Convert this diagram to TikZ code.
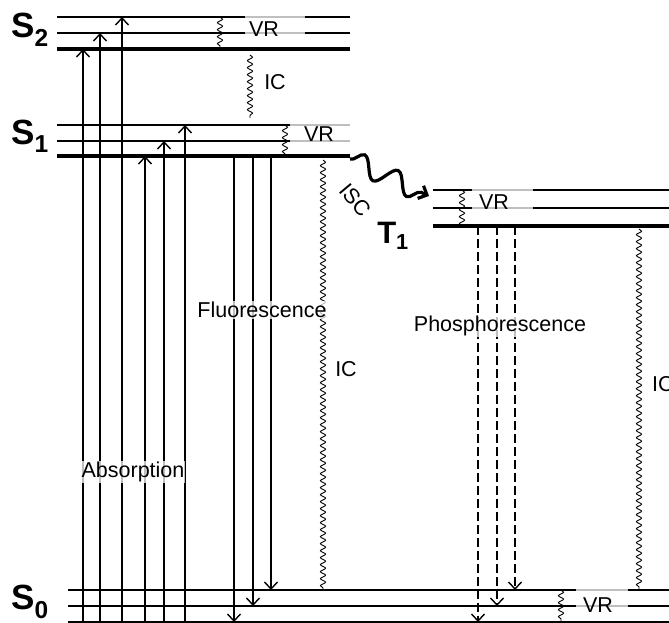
\documentclass[tikz,border=0pt]{standalone}
\usepackage{fontspec}
\setmainfont{Liberation Sans}
\usetikzlibrary{arrows.meta,decorations.pathmorphing}

\tikzset{
  level/.style={line width=1.8pt},
  ground/.style={line width=3.6pt},
  faded/.style={line width=1.9pt, black!25},
  radiative/.style={line width=1.4pt, -{Straight Barb[length=7pt,width=13pt]}},
  phos/.style={radiative, dash pattern=on 9pt off 4pt},
  wiggle/.style={line width=0.9pt, decorate, decoration={snake, amplitude=2.6pt, segment length=7pt}},
  isc/.style={line width=3.2pt, -{Straight Barb[length=7pt,width=14pt]}, decorate,
    decoration={snake, amplitude=10pt, segment length=37pt, post length=5pt}},
  lbl/.style={font=\fontsize{21.5}{21.5}\selectfont, inner sep=1pt},
  veil/.style={lbl, fill=white, fill opacity=0.75, text opacity=1},
  statelbl/.style={font=\fontsize{35}{35}\selectfont\bfseries, inner sep=0pt},
}

\begin{document}
\begin{tikzpicture}[x=1pt,y=-1pt]
  \useasboundingbox (0,0) rectangle (669,623);

  % Energy levels (left end of each line)
  \coordinate (s2a) at (57,17);
  \coordinate (s2b) at (57,33);
  \coordinate (s2c) at (57,49);
  \coordinate (s1a) at (57,125);
  \coordinate (s1b) at (57,141);
  \coordinate (s1c) at (57,156);
  \coordinate (t1a) at (433,190);
  \coordinate (t1b) at (433,208);
  \coordinate (t1c) at (433,226);
  \coordinate (s0a) at (68,590);
  \coordinate (s0b) at (68,606);
  \coordinate (s0c) at (68,622);

  % S2 and S1
  \foreach \lv in {s2a,s2b,s1a,s1b}
    \draw[level] (\lv) -- ++(293,0);
  \draw[ground] (s2c) -- ++(293,0);
  \draw[ground] (s1c) -- ++(293,0);
  \draw[faded] (245,17) -- (305,17);
  \draw[faded] (245,33) -- (305,33);
  \draw[faded] (290,125) -- (350,125);
  \draw[faded] (290,141) -- (350,141);

  % T1
  \draw[level] (t1a) -- (669,190);
  \draw[level] (t1b) -- (669,208);
  \draw[ground] (t1c) -- (669,226);
  \draw[faded] (472,190) -- (533,190);
  \draw[faded] (472,208) -- (533,208);

  % S0
  \foreach \lv in {s0a,s0b,s0c}
    \draw[level] (\lv) -- (669,0 |- \lv);
  \draw[faded] (576,590) -- (628,590);
  \draw[faded] (576,606) -- (628,606);

  % Absorption
  \foreach \x/\lv in {83/s2c,100/s2b,122/s2a,145/s1c,164/s1b,185/s1a}
    \draw[radiative] (\x,0 |- s0c) -- (\x,0 |- \lv);

  % Fluorescence
  \foreach \x/\lv in {234/s0c,253/s0b,271/s0a}
    \draw[radiative] (\x,0 |- s1c) -- (\x,0 |- \lv);

  % Phosphorescence
  \foreach \x/\lv in {478/s0c,497/s0b,515/s0a}
    \draw[phos] (\x,0 |- t1c) -- (\x,0 |- \lv);

  % Vibrational relaxation
  \draw[wiggle] (220,0 |- s2a) -- (220,0 |- s2c);
  \draw[wiggle] (285,0 |- s1a) -- (285,0 |- s1c);
  \draw[wiggle] (462,0 |- t1a) -- (462,0 |- t1c);
  \draw[wiggle] (561,0 |- s0a) -- (561,0 |- s0c);

  % Internal conversion
  \draw[wiggle] (250,55) -- (250,118);
  \draw[wiggle] (323,160) -- (323,0 |- s0a);
  \draw[wiggle] (639,229) -- (639,0 |- s0a);

  % Intersystem crossing
  \coordinate (iscfrom) at (350,159);
  \coordinate (iscto) at (429,196);
  \draw[isc] (iscfrom) -- (iscto);

  % Labels
  \node[statelbl] (lS2) at (30,30) {S\textsubscript{2}};
  \node[statelbl] (lS1) at (30,136) {S\textsubscript{1}};
  \node[statelbl] (lS0) at (30,602) {S\textsubscript{0}};
  \node[statelbl, font=\fontsize{31}{31}\selectfont\bfseries] (lT1) at (393,236) {T\textsubscript{1}};

  \node[lbl] (vr2) at (264,29) {VR};
  \node[lbl] (vr1) at (319,134) {VR};
  \node[lbl] (vrt) at (494,202) {VR};
  \node[lbl] (vr0) at (598,605) {VR};

  \node[lbl] (ic21) at (275,82) {IC};
  \node[lbl] (ic10) at (346,369) {IC};
  \node[lbl, anchor=west] (ict0) at (651,384) {IC};
  \node[lbl, rotate=-50] (isclbl) at (355,200) {ISC};

  \node[veil] (absl) at (133,472) {Absorption};
  \node[veil] (fluol) at (262,310) {Fluorescence};
  \node[veil] (phosl) at (500,326) {Phosphorescence};
\end{tikzpicture}
\end{document}
